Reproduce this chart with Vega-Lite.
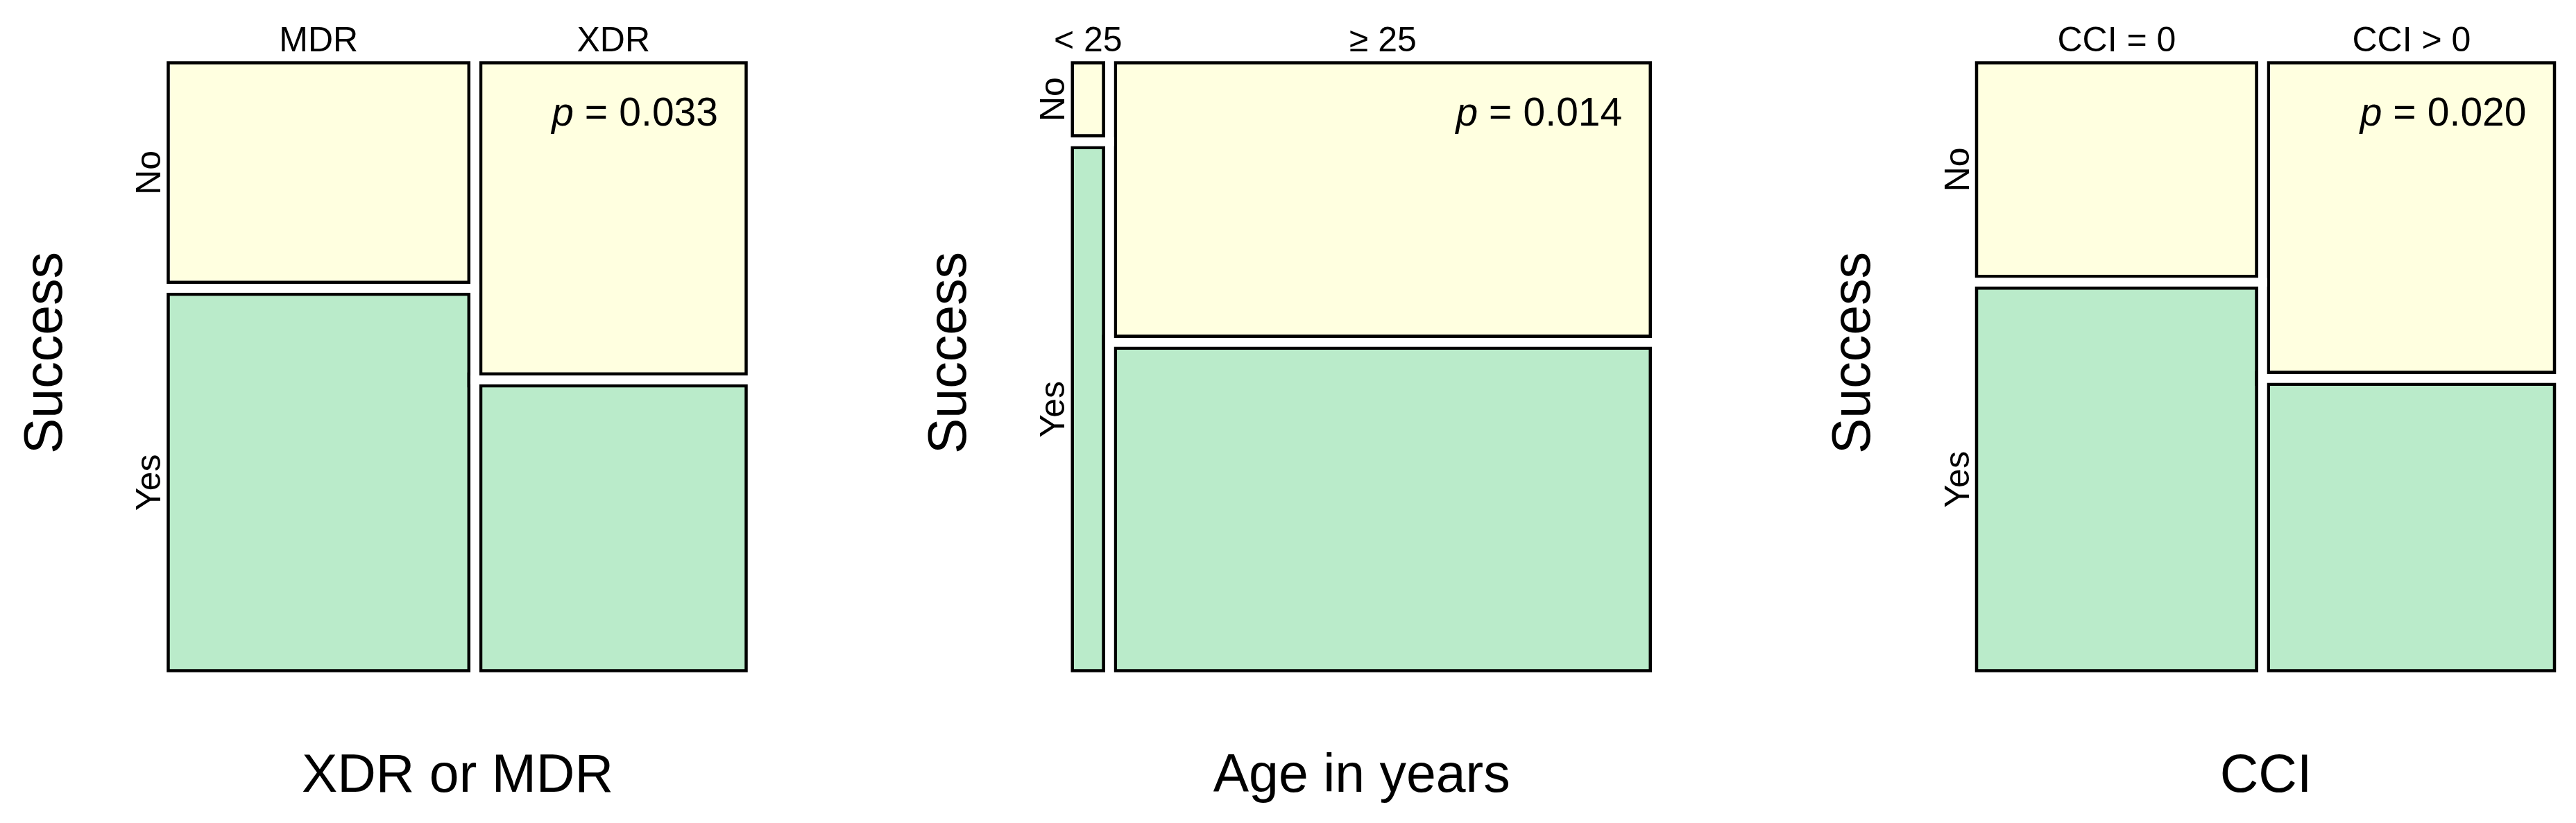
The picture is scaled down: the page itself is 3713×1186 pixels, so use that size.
{
  "$schema": "https://vega.github.io/schema/vega-lite/v6.json",
  "background": "white",
  "padding": {"left": 26, "top": 34, "right": 5, "bottom": 5},
  "datasets": {
    "tiles": [
      {"panel": "XDR or MDR", "group": "MDR", "success": "No", "pct": 19.8},
      {"panel": "XDR or MDR", "group": "MDR", "success": "Yes", "pct": 33.2},
      {"panel": "XDR or MDR", "group": "XDR", "success": "No", "pct": 24.5},
      {"panel": "XDR or MDR", "group": "XDR", "success": "Yes", "pct": 22.5},
      {"panel": "Age in years", "group": "< 25", "success": "No", "pct": 1.0},
      {"panel": "Age in years", "group": "< 25", "success": "Yes", "pct": 6.3},
      {"panel": "Age in years", "group": "≥ 25", "success": "No", "pct": 42.7},
      {"panel": "Age in years", "group": "≥ 25", "success": "Yes", "pct": 50.0},
      {"panel": "CCI", "group": "CCI = 0", "success": "No", "pct": 18.0},
      {"panel": "CCI", "group": "CCI = 0", "success": "Yes", "pct": 31.5},
      {"panel": "CCI", "group": "CCI > 0", "success": "No", "pct": 26.2},
      {"panel": "CCI", "group": "CCI > 0", "success": "Yes", "pct": 24.3}
    ],
    "pvals": [
      {"panel": "XDR or MDR", "p": 0.033},
      {"panel": "Age in years", "p": 0.014},
      {"panel": "CCI", "p": 0.020}
    ]
  },
  "data": {"name": "tiles"},
  "spacing": 238.25,
  "config": {
    "view": {"stroke": null},
    "font": "Liberation Sans",
    "axis": {"grid": false, "titleFont": "Liberation Sans", "titleFontSize": 77, "titleFontWeight": "normal", "titleColor": "black"},
    "text": {"font": "Liberation Sans", "color": "black"}
  },
  "hconcat": [
    {
      "width": 850, "height": 893,
      "transform": [
        {"filter": {"field": "panel", "equal": "XDR or MDR"}},
        {"stack": "pct", "groupby": [], "sort": [{"field": "group", "order": "ascending"}, {"field": "success", "order": "ascending"}], "offset": "normalize", "as": ["sx0", "sx1"]},
        {"window": [{"op": "min", "field": "sx0", "as": "x0"}, {"op": "max", "field": "sx1", "as": "x1"}], "groupby": ["group"], "frame": [null, null]},
        {"stack": "pct", "groupby": ["group"], "sort": [{"field": "success", "order": "descending"}], "offset": "normalize", "as": ["y0", "y1"]}
      ],
      "layer": [
        {
          "mark": {"type": "rect", "stroke": "black", "strokeWidth": 21.5, "clip": true},
          "encoding": {
            "x": {"field": "x0", "type": "quantitative", "scale": {"domain": [0, 1], "nice": false}, "axis": {"title": "XDR or MDR", "labels": false, "ticks": false, "domain": false, "titlePadding": 104}},
            "x2": {"field": "x1"},
            "y": {"field": "y0", "type": "quantitative", "scale": {"domain": [0, 1], "nice": false}, "axis": {"title": "Success", "labels": false, "ticks": false, "domain": false, "titlePadding": 130, "titleY": 426}},
            "y2": {"field": "y1"},
            "color": {"field": "success", "type": "nominal", "scale": {"domain": ["No", "Yes"], "range": ["#FFFFE0", "#BAEBCA"]}, "legend": null}
          }
        },
        {
          "mark": {"type": "rect", "filled": false, "stroke": "white", "strokeWidth": 12.5},
          "encoding": {
            "x": {"field": "x0", "type": "quantitative"},
            "x2": {"field": "x1"},
            "y": {"field": "y0", "type": "quantitative"},
            "y2": {"field": "y1"}
          }
        },
        {
          "transform": [
            {"filter": {"field": "x0", "equal": 0}},
            {"fold": ["y0", "y1"], "as": ["k", "v"]},
            {"aggregate": [{"op": "mean", "field": "v", "as": "ym"}], "groupby": ["success"]}
          ],
          "mark": {"type": "text", "fontSize": 50, "angle": 270, "align": "center", "baseline": "alphabetic", "dy": -3},
          "encoding": {
            "x": {"datum": 0, "type": "quantitative"},
            "y": {"field": "ym", "type": "quantitative"},
            "text": {"field": "success"}
          }
        },
        {
          "transform": [
            {"fold": ["x0", "x1"], "as": ["k", "v"]},
            {"aggregate": [{"op": "mean", "field": "v", "as": "xm"}], "groupby": ["group"]}
          ],
          "mark": {"type": "text", "fontSize": 50, "align": "center", "baseline": "alphabetic", "dy": -8},
          "encoding": {
            "x": {"field": "xm", "type": "quantitative"},
            "y": {"datum": 1, "type": "quantitative"},
            "text": {"field": "group"}
          }
        },
        {
          "data": {"name": "pvals"},
          "transform": [{"filter": {"field": "panel", "equal": "XDR or MDR"}}],
          "encoding": {
            "x": {"datum": 1, "type": "quantitative"},
            "y": {"datum": 1, "type": "quantitative"}
          },
          "layer": [
            {"mark": {"type": "text", "fontSize": 57, "fontStyle": "italic", "align": "right", "baseline": "alphabetic", "dx": -257, "dy": 98.5, "text": "p"}},
            {"mark": {"type": "text", "fontSize": 57, "align": "right", "baseline": "alphabetic", "dx": -208, "dy": 98.5, "text": "="}},
            {"mark": {"type": "text", "fontSize": 57, "align": "right", "baseline": "alphabetic", "dx": -49, "dy": 98.5}, "encoding": {"text": {"field": "p", "type": "quantitative", "format": ".3f"}}}
          ]
        }
      ]
    },
    {
      "width": 850, "height": 893,
      "transform": [
        {"filter": {"field": "panel", "equal": "Age in years"}},
        {"stack": "pct", "groupby": [], "sort": [{"field": "group", "order": "ascending"}, {"field": "success", "order": "ascending"}], "offset": "normalize", "as": ["sx0", "sx1"]},
        {"window": [{"op": "min", "field": "sx0", "as": "x0"}, {"op": "max", "field": "sx1", "as": "x1"}], "groupby": ["group"], "frame": [null, null]},
        {"stack": "pct", "groupby": ["group"], "sort": [{"field": "success", "order": "descending"}], "offset": "normalize", "as": ["y0", "y1"]}
      ],
      "layer": [
        {
          "mark": {"type": "rect", "stroke": "black", "strokeWidth": 21.5, "clip": true},
          "encoding": {
            "x": {"field": "x0", "type": "quantitative", "scale": {"domain": [0, 1], "nice": false}, "axis": {"title": "Age in years", "labels": false, "ticks": false, "domain": false, "titlePadding": 104}},
            "x2": {"field": "x1"},
            "y": {"field": "y0", "type": "quantitative", "scale": {"domain": [0, 1], "nice": false}, "axis": {"title": "Success", "labels": false, "ticks": false, "domain": false, "titlePadding": 130, "titleY": 426}},
            "y2": {"field": "y1"},
            "color": {"field": "success", "type": "nominal", "scale": {"domain": ["No", "Yes"], "range": ["#FFFFE0", "#BAEBCA"]}, "legend": null}
          }
        },
        {
          "mark": {"type": "rect", "filled": false, "stroke": "white", "strokeWidth": 12.5},
          "encoding": {
            "x": {"field": "x0", "type": "quantitative"},
            "x2": {"field": "x1"},
            "y": {"field": "y0", "type": "quantitative"},
            "y2": {"field": "y1"}
          }
        },
        {
          "transform": [
            {"filter": {"field": "x0", "equal": 0}},
            {"fold": ["y0", "y1"], "as": ["k", "v"]},
            {"aggregate": [{"op": "mean", "field": "v", "as": "ym"}], "groupby": ["success"]}
          ],
          "mark": {"type": "text", "fontSize": 50, "angle": 270, "align": "center", "baseline": "alphabetic", "dy": -3},
          "encoding": {
            "x": {"datum": 0, "type": "quantitative"},
            "y": {"field": "ym", "type": "quantitative"},
            "text": {"field": "success"}
          }
        },
        {
          "transform": [
            {"fold": ["x0", "x1"], "as": ["k", "v"]},
            {"aggregate": [{"op": "mean", "field": "v", "as": "xm"}], "groupby": ["group"]}
          ],
          "mark": {"type": "text", "fontSize": 50, "align": "center", "baseline": "alphabetic", "dy": -8},
          "encoding": {
            "x": {"field": "xm", "type": "quantitative"},
            "y": {"datum": 1, "type": "quantitative"},
            "text": {"field": "group"}
          }
        },
        {
          "data": {"name": "pvals"},
          "transform": [{"filter": {"field": "panel", "equal": "Age in years"}}],
          "encoding": {
            "x": {"datum": 1, "type": "quantitative"},
            "y": {"datum": 1, "type": "quantitative"}
          },
          "layer": [
            {"mark": {"type": "text", "fontSize": 57, "fontStyle": "italic", "align": "right", "baseline": "alphabetic", "dx": -257, "dy": 98.5, "text": "p"}},
            {"mark": {"type": "text", "fontSize": 57, "align": "right", "baseline": "alphabetic", "dx": -208, "dy": 98.5, "text": "="}},
            {"mark": {"type": "text", "fontSize": 57, "align": "right", "baseline": "alphabetic", "dx": -49, "dy": 98.5}, "encoding": {"text": {"field": "p", "type": "quantitative", "format": ".3f"}}}
          ]
        }
      ]
    },
    {
      "width": 850, "height": 893,
      "transform": [
        {"filter": {"field": "panel", "equal": "CCI"}},
        {"stack": "pct", "groupby": [], "sort": [{"field": "group", "order": "ascending"}, {"field": "success", "order": "ascending"}], "offset": "normalize", "as": ["sx0", "sx1"]},
        {"window": [{"op": "min", "field": "sx0", "as": "x0"}, {"op": "max", "field": "sx1", "as": "x1"}], "groupby": ["group"], "frame": [null, null]},
        {"stack": "pct", "groupby": ["group"], "sort": [{"field": "success", "order": "descending"}], "offset": "normalize", "as": ["y0", "y1"]}
      ],
      "layer": [
        {
          "mark": {"type": "rect", "stroke": "black", "strokeWidth": 21.5, "clip": true},
          "encoding": {
            "x": {"field": "x0", "type": "quantitative", "scale": {"domain": [0, 1], "nice": false}, "axis": {"title": "CCI", "labels": false, "ticks": false, "domain": false, "titlePadding": 104}},
            "x2": {"field": "x1"},
            "y": {"field": "y0", "type": "quantitative", "scale": {"domain": [0, 1], "nice": false}, "axis": {"title": "Success", "labels": false, "ticks": false, "domain": false, "titlePadding": 130, "titleY": 426}},
            "y2": {"field": "y1"},
            "color": {"field": "success", "type": "nominal", "scale": {"domain": ["No", "Yes"], "range": ["#FFFFE0", "#BAEBCA"]}, "legend": null}
          }
        },
        {
          "mark": {"type": "rect", "filled": false, "stroke": "white", "strokeWidth": 12.5},
          "encoding": {
            "x": {"field": "x0", "type": "quantitative"},
            "x2": {"field": "x1"},
            "y": {"field": "y0", "type": "quantitative"},
            "y2": {"field": "y1"}
          }
        },
        {
          "transform": [
            {"filter": {"field": "x0", "equal": 0}},
            {"fold": ["y0", "y1"], "as": ["k", "v"]},
            {"aggregate": [{"op": "mean", "field": "v", "as": "ym"}], "groupby": ["success"]}
          ],
          "mark": {"type": "text", "fontSize": 50, "angle": 270, "align": "center", "baseline": "alphabetic", "dy": -3},
          "encoding": {
            "x": {"datum": 0, "type": "quantitative"},
            "y": {"field": "ym", "type": "quantitative"},
            "text": {"field": "success"}
          }
        },
        {
          "transform": [
            {"fold": ["x0", "x1"], "as": ["k", "v"]},
            {"aggregate": [{"op": "mean", "field": "v", "as": "xm"}], "groupby": ["group"]}
          ],
          "mark": {"type": "text", "fontSize": 50, "align": "center", "baseline": "alphabetic", "dy": -8},
          "encoding": {
            "x": {"field": "xm", "type": "quantitative"},
            "y": {"datum": 1, "type": "quantitative"},
            "text": {"field": "group"}
          }
        },
        {
          "data": {"name": "pvals"},
          "transform": [{"filter": {"field": "panel", "equal": "CCI"}}],
          "encoding": {
            "x": {"datum": 1, "type": "quantitative"},
            "y": {"datum": 1, "type": "quantitative"}
          },
          "layer": [
            {"mark": {"type": "text", "fontSize": 57, "fontStyle": "italic", "align": "right", "baseline": "alphabetic", "dx": -257, "dy": 98.5, "text": "p"}},
            {"mark": {"type": "text", "fontSize": 57, "align": "right", "baseline": "alphabetic", "dx": -208, "dy": 98.5, "text": "="}},
            {"mark": {"type": "text", "fontSize": 57, "align": "right", "baseline": "alphabetic", "dx": -49, "dy": 98.5}, "encoding": {"text": {"field": "p", "type": "quantitative", "format": ".3f"}}}
          ]
        }
      ]
    }
  ]
}
